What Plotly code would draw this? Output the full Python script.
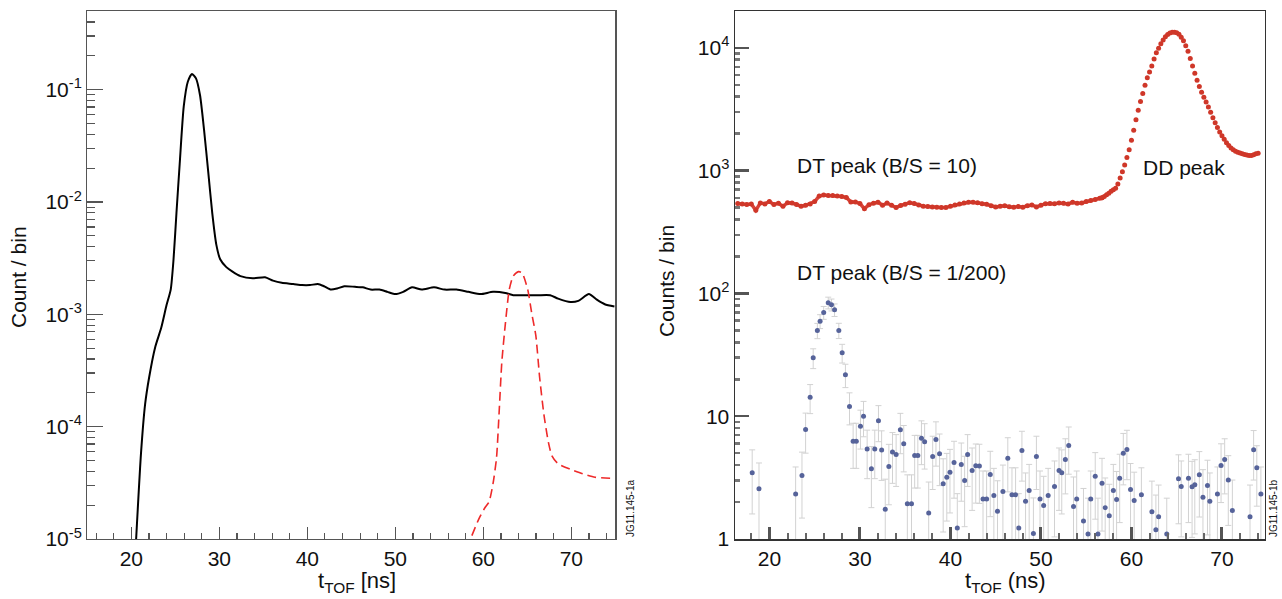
import plotly.graph_objects as go

# ---------------- Left panel data (simulated spectra) ----------------
dt_t = [20.55, 21.1, 21.57, 22.03, 22.72, 23.4, 24.0, 24.48, 24.8, 25.13, 25.5, 25.96,
        26.42, 26.89, 27.35, 27.81, 28.27, 28.74, 29.2, 29.66, 30.1, 30.8, 31.5, 32.4,
        33.8, 35.2, 36.1, 37.1, 38.4, 39.4, 40.3, 41.2, 41.9, 42.7, 43.4, 44.2, 45.4,
        46.3, 47.2, 48.2, 49.1, 50.0, 50.9, 51.9, 53.0, 54.4, 55.6, 56.95, 58.3, 59.7,
        61.1, 62.5, 63.4, 64.8, 66.2, 67.6, 68.5, 69.9, 70.8, 72.0, 72.9, 73.8, 74.9]
dt_log = [-5.0, -4.24, -3.80, -3.56, -3.29, -3.12, -2.92, -2.78, -2.51, -2.10, -1.66, -1.15,
          -0.93, -0.86, -0.90, -1.05, -1.36, -1.73, -2.10, -2.38, -2.51, -2.58, -2.62, -2.66,
          -2.68, -2.67, -2.70, -2.72, -2.73, -2.74, -2.74, -2.73, -2.75, -2.78, -2.77, -2.75, -2.755,
          -2.76, -2.78, -2.78, -2.80, -2.82, -2.80, -2.76, -2.78, -2.76, -2.78, -2.78, -2.80, -2.82,
          -2.80, -2.81, -2.83, -2.83, -2.83, -2.83, -2.86, -2.89, -2.88, -2.82, -2.87, -2.91, -2.93]
dt_val = [10 ** v for v in dt_log]

dd_t = [58.7, 59.5, 60.2, 60.65, 61.1, 61.5, 61.8, 62.1, 62.5, 62.95, 63.4, 64.0, 64.4,
        65.05, 65.5, 65.97, 66.4, 66.9, 67.4, 67.8, 68.5, 69.9, 71.3, 72.7, 74.5]
dd_log = [-4.97, -4.82, -4.72, -4.67, -4.51, -4.28, -3.87, -3.43, -3.09, -2.78, -2.66, -2.62, -2.63,
          -2.78, -2.99, -3.19, -3.56, -3.90, -4.14, -4.26, -4.33, -4.38, -4.42, -4.45, -4.46]
dd_val = [10 ** v for v in dd_log]

# ---------------- Right panel data (measured) ----------------
red_t = [16.5 + 0.5 * i for i in range(81)] + [56.75 + 0.25 * i for i in range(70)]
red_counts = [540, 535, 530, 535, 475, 546, 536, 560, 530, 543, 512, 548, 545, 530, 512, 522,
              536, 560, 620, 632, 628, 627, 622, 615, 605, 556, 556, 540, 490, 528, 543, 553,
              522, 544, 522, 500, 520, 533, 548, 540, 524, 513, 510, 505, 504, 500, 502, 512,
              525, 535, 545, 553, 553, 547, 538, 532, 518, 506, 512, 518, 508, 504, 510, 504,
              518, 525, 506, 522, 538, 540, 538, 546, 542, 536, 552, 543, 546, 560, 572, 583, 595,
              600, 615, 635, 655, 680, 700, 720, 780, 870, 980, 1110, 1280, 1480, 1770, 2130,
              2600, 3100, 3650, 4250, 4950, 5700, 6350, 7100, 8100, 9100, 9900, 10800, 11600,
              12300, 12850, 13200, 13400, 13400, 13250, 12900, 12200, 11400, 10400, 9400, 8200,
              7100, 6200, 5450, 4850, 4350, 3950, 3620, 3300, 2990, 2700, 2450, 2250, 2060, 1920,
              1800, 1690, 1600, 1530, 1480, 1440, 1410, 1390, 1370, 1350, 1340, 1330, 1330, 1345,
              1370, 1385]
n_base = 81  # baseline bins (drawn as a continuous band), the rest as separate dots

blue_t = [18.1, 18.85, 22.9, 23.6, 24.0, 24.5, 24.84, 25.3, 25.6, 26.0, 26.5, 26.86, 27.2,
          27.67, 28.04, 28.4, 28.85, 29.25, 29.6, 30.06, 30.4, 30.8, 31.27, 31.64, 32.05, 32.4,
          32.8, 33.2, 33.6, 34.0, 34.47, 34.84, 35.24, 35.7, 36.05, 36.4, 36.8, 37.15, 37.6,
          38.04, 38.4, 38.8, 39.2, 39.6, 39.95, 40.4, 40.76, 41.2, 41.57, 41.9, 42.4, 42.8,
          43.2, 43.6, 44.0, 44.4, 44.8, 45.2, 45.8, 46.34, 46.8, 47.2, 47.55, 47.9, 48.3, 48.7,
          49.17, 49.5, 49.9, 50.3, 50.8, 51.5, 52.0, 52.3, 52.7, 53.07, 53.6, 53.95, 54.7, 55.2,
          55.5, 56.0, 56.3, 56.75, 57.1, 57.55, 58.0, 58.36, 58.7, 59.1, 59.5, 59.9, 60.3, 61.1,
          62.26, 62.7, 63.0, 63.9, 65.2, 65.5, 66.3, 66.7, 67.0, 67.5, 67.9, 68.4, 68.66, 69.5,
          69.9, 70.3, 70.7, 71.15, 73.1, 73.5, 73.85, 74.3]
blue_counts = [3.46, 2.56, 2.33, 3.29, 7.8, 14.3, 29.9, 49.9, 59.4, 69.9, 84, 81, 73.5,
               50, 32.8, 21.8, 12.0, 6.26, 6.26, 8.3, 10.0, 5.4, 3.73, 5.4, 9.2, 5.3,
               1.75, 3.9, 5.1, 4.88, 7.75, 5.96, 1.94, 1.94, 4.79, 4.79, 6.6, 6.2, 1.63,
               4.7, 6.46, 4.94, 2.82, 3.19, 3.5, 4.2, 1.23, 4.04, 2.99, 4.88, 3.61, 3.95,
               3.93, 2.12, 2.12, 3.35, 2.26, 1.68, 2.44, 4.55, 2.29, 2.29, 1.23, 5.25, 2.03, 2.48,
               1.11, 4.7, 2.12, 1.87, 2.26, 2.68, 3.61, 3.46, 4.44, 5.77, 1.84, 2.12, 1.4, 1.1,
               2.12, 3.25, 1.1, 2.85, 1.8, 1.55, 2.48, 2.1, 3.13, 5.0, 5.36, 2.53, 2.06, 2.29,
               1.67, 1.19, 1.52, 1.1, 3.09, 2.68, 3.13, 2.66, 2.76, 3.33, 2.19, 2.73, 2.03, 2.33,
               3.97, 4.44, 3.03, 1.71, 1.52, 5.33, 3.8, 2.33]
blue_err = [1.86, 1.6, 1.53, 1.81, 2.8, 3.8, 5.5, 7.1, 7.7, 8.4, 9.2, 9.0, 8.6,
            7.1, 5.7, 4.7, 3.5, 2.5, 2.5, 2.9, 3.2, 2.3, 1.93, 2.3, 3.0, 2.3,
            1.32, 2.0, 2.26, 2.2, 2.8, 2.44, 1.39, 1.39, 2.19, 2.19, 2.57, 2.49, 1.28,
            2.17, 2.54, 2.22, 1.68, 1.79, 1.87, 2.05, 1.11, 2.01, 1.73, 2.2, 1.9, 1.99,
            1.98, 1.46, 1.46, 1.83, 1.5, 1.3, 1.56, 2.13, 1.51, 1.51, 1.11, 2.29, 1.42, 1.57,
            1.05, 2.17, 1.46, 1.37, 1.5, 1.64, 1.9, 1.86, 2.11, 2.4, 1.36, 1.46, 1.18, 1.05,
            1.46, 1.8, 1.05, 1.69, 1.34, 1.24, 1.57, 1.45, 1.77, 2.24, 2.32, 1.59, 1.44, 1.51,
            1.29, 1.09, 1.23, 1.05, 1.76, 1.64, 1.77, 1.63, 1.66, 1.82, 1.48, 1.65, 1.42, 1.53,
            1.99, 2.11, 1.74, 1.31, 1.23, 2.31, 1.95, 1.53]

x_major = [20, 30, 40, 50, 60, 70]
x_labels = ["20", "30", "40", "50", "60", "70"]
left_y_major = [1e-5, 1e-4, 1e-3, 1e-2, 1e-1]
left_y_labels = ["10<sup>-5</sup>", "10<sup>-4</sup>", "10<sup>-3</sup>", "10<sup>-2</sup>", "10<sup>-1</sup>"]
right_y_major = [1, 10, 100, 1000, 10000]
right_y_labels = ["1", "10", "10<sup>2</sup>", "10<sup>3</sup>", "10<sup>4</sup>"]

FONT = "Liberation Sans, Arial, Helvetica, sans-serif"
TXT = "#111111"
TICKSIZE = 21
RED = "#cf3729"

fig = go.Figure()

fig.add_trace(go.Scatter(x=dt_t, y=dt_val, mode="lines", line=dict(color="black", width=2, shape="spline", smoothing=0.6),
                         xaxis="x", yaxis="y", showlegend=False, hoverinfo="skip"))
fig.add_trace(go.Scatter(x=dd_t, y=dd_val, mode="lines", line=dict(color="#ee2a2a", width=1.6, dash="9px,5px", shape="spline", smoothing=0.6),
                         xaxis="x", yaxis="y", showlegend=False, hoverinfo="skip"))

fig.add_trace(go.Scatter(x=blue_t, y=blue_counts, mode="markers",
                         marker=dict(color="#56639a", size=5),
                         error_y=dict(type="data", array=blue_err, color="#d2d2d2", thickness=1, width=3),
                         xaxis="x2", yaxis="y2", showlegend=False, hoverinfo="skip"))
fig.add_trace(go.Scatter(x=red_t[:n_base + 1], y=red_counts[:n_base + 1], mode="lines+markers",
                         line=dict(color="#d9443a", width=3.5),
                         marker=dict(color=RED, size=5),
                         xaxis="x2", yaxis="y2", showlegend=False, hoverinfo="skip"))
fig.add_trace(go.Scatter(x=red_t[n_base:], y=red_counts[n_base:], mode="markers",
                         marker=dict(color=RED, size=5),
                         xaxis="x2", yaxis="y2", showlegend=False, hoverinfo="skip"))

def minor_log(lo_exp, hi_exp, top):
    vals = []
    for e in range(lo_exp, hi_exp + 1):
        for k in range(2, 10):
            v = k * 10 ** e
            if v <= top:
                vals.append(v)
    return vals

x_minor = [v for v in range(16, 76, 2) if v % 10 != 0]

ydom = [1 - 539.0 / 599, 1 - 11.0 / 599]

fig.update_layout(
    width=1282, height=599, autosize=False,
    margin=dict(l=0, r=0, t=0, b=0, autoexpand=False),
    paper_bgcolor="white", plot_bgcolor="white",
    font=dict(family=FONT, color=TXT),
    xaxis=dict(domain=[87.3 / 1282, 615.3 / 1282], range=[15, 75], anchor="y",
               tickvals=x_major, ticktext=x_labels,
               showgrid=False, zeroline=False, showline=True, mirror=True, linewidth=1.3, linecolor="#555",
               ticks="inside", ticklen=12, tickwidth=1.2, tickcolor="#555",
               tickfont=dict(family=FONT, size=TICKSIZE, color=TXT),
               minor=dict(tickvals=x_minor, ticks="inside", ticklen=6, tickwidth=1.2, tickcolor="#555")),
    yaxis=dict(domain=ydom, type="log", range=[-5, -0.3], anchor="x",
               tickvals=left_y_major, ticktext=left_y_labels,
               showgrid=False, zeroline=False, showline=True, mirror=True, linewidth=1.3, linecolor="#555",
               ticks="inside", ticklen=16, tickwidth=1.2, tickcolor="#555",
               tickfont=dict(family=FONT, size=TICKSIZE, color=TXT),
               minor=dict(tickvals=minor_log(-5, -1, 0.5), ticks="inside", ticklen=8, tickwidth=1.2, tickcolor="#555")),
    xaxis2=dict(domain=[735 / 1282, 1264.5 / 1282], range=[16.2, 74.7], anchor="y2",
                tickvals=x_major, ticktext=x_labels,
                showgrid=False, zeroline=False, showline=True, mirror=True, linewidth=1.5, linecolor="#333",
                ticks="inside", ticklen=12, tickwidth=3, tickcolor="#555",
                tickfont=dict(family=FONT, size=TICKSIZE, color=TXT),
                minor=dict(tickvals=x_minor, ticks="inside", ticklen=6, tickwidth=2, tickcolor="#666")),
    yaxis2=dict(domain=ydom, type="log", range=[0, 4.3], anchor="x2",
                tickvals=right_y_major, ticktext=right_y_labels,
                showgrid=False, zeroline=False, showline=True, mirror=True, linewidth=1.5, linecolor="#333",
                ticks="inside", ticklen=14, tickwidth=2.5, tickcolor="#555",
                tickfont=dict(family=FONT, size=TICKSIZE, color=TXT),
                minor=dict(tickvals=minor_log(0, 4, 20000), ticks="inside", ticklen=5, tickwidth=2.5, tickcolor="#777")),
)

ann = []
def add_text(text, x, y, size=21, angle=0, xanchor="center", yanchor="middle", bg=None):
    d = dict(text=text, x=x / 1282, y=1 - y / 599, xref="paper", yref="paper",
             showarrow=False, textangle=angle, xanchor=xanchor, yanchor=yanchor,
             font=dict(family=FONT, size=size, color=TXT))
    if bg:
        d["bgcolor"] = bg
        d["borderpad"] = 0
    ann.append(d)

add_text("Count / bin", 19, 277, size=21, angle=-90)
add_text("Counts / bin", 666, 281, size=21, angle=-90)
add_text("t<sub>TOF</sub> [ns]", 357, 582, size=22)
add_text("t<sub>TOF</sub> (ns)", 1005, 582, size=22)
add_text("JG11.145-1a", 630, 508, size=10, angle=-90)
add_text("JG11.145-1b", 1273, 508, size=10, angle=-90)
add_text("DT peak (B/S = 10)", 796, 165, size=21, xanchor="left", bg="white")
add_text("DD peak", 1142, 167, size=21, xanchor="left", bg="white")
add_text("DT peak (B/S = 1/200)", 796, 272, size=21, xanchor="left", bg="white")

fig.update_layout(annotations=ann)

fig.write_html("out.html", config={"displayModeBar": False, "staticPlot": True},
               post_script="document.body.style.margin='0';document.body.style.padding='0';document.body.style.overflow='hidden';")
